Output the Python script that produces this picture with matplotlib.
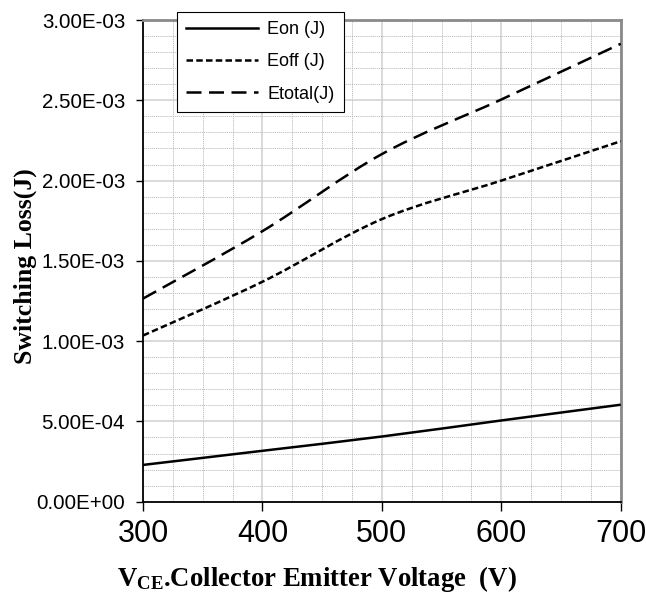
import matplotlib
matplotlib.use("Agg")
import matplotlib.pyplot as plt
from matplotlib.path import Path
from matplotlib.patches import PathPatch
from matplotlib.lines import Line2D
from matplotlib.ticker import MultipleLocator, FuncFormatter

# Switching loss vs collector-emitter voltage
vce = [300, 400, 500, 600, 700]
eon = [2.29e-4, 3.17e-4, 4.06e-4, 5.06e-4, 6.04e-4]
eoff = [1.035e-3, 1.37e-3, 1.76e-3, 2.0e-3, 2.245e-3]
etotal = [1.265e-3, 1.685e-3, 2.165e-3, 2.505e-3, 2.852e-3]

series_labels = ["Eon (J)", "Eoff (J)", "Etotal(J)"]
x_ticks = [300, 400, 500, 600, 700]
y_ticks = [0.0, 5e-4, 1e-3, 1.5e-3, 2e-3, 2.5e-3, 3e-3]

LW = 1.8
styles = [
    dict(linestyle="-"),
    dict(linestyle=(0, (2.6, 1.3))),
    dict(linestyle=(0, (6.0, 3.0))),
]

plt.rcParams["font.family"] = ["Liberation Sans", "DejaVu Sans"]
plt.rcParams["mathtext.fontset"] = "custom"
plt.rcParams["mathtext.rm"] = "Liberation Serif"
plt.rcParams["mathtext.bf"] = "Liberation Serif:bold"
plt.rcParams["mathtext.it"] = "Liberation Serif:italic"

fig = plt.figure(figsize=(6.46, 5.94), dpi=100)
ax = fig.add_axes([0.2214, 0.1554, 0.7395, 0.8109])


def smooth_path(xs, ys):
    """Cubic Bezier path through the points (spreadsheet-style smoothed line)."""
    n = len(xs)
    pts = list(zip(xs, ys))
    verts = [pts[0]]
    codes = [Path.MOVETO]
    for i in range(n - 1):
        p0 = pts[i - 1] if i > 0 else pts[i]
        p1 = pts[i]
        p2 = pts[i + 1]
        p3 = pts[i + 2] if i + 2 < n else pts[i + 1]
        c1 = (p1[0] + (p2[0] - p0[0]) / 6.0, p1[1] + (p2[1] - p0[1]) / 6.0)
        c2 = (p2[0] - (p3[0] - p1[0]) / 6.0, p2[1] - (p3[1] - p1[1]) / 6.0)
        verts += [c1, c2, p2]
        codes += [Path.CURVE4] * 3
    return Path(verts, codes)


handles = []
for ys, st, lab in zip([eon, eoff, etotal], styles, series_labels):
    patch = PathPatch(smooth_path(vce, ys), fill=False, edgecolor="black",
                      linewidth=LW, capstyle="butt", zorder=3, **st)
    ax.add_patch(patch)
    handles.append(Line2D([], [], color="black", linewidth=LW, label=lab, **st))

ax.set_xlim(300, 700)
ax.set_ylim(0, 3e-3)
ax.set_xticks(x_ticks)
ax.set_yticks(y_ticks)
ax.xaxis.set_minor_locator(MultipleLocator(25))
ax.yaxis.set_minor_locator(MultipleLocator(1e-4))


def sci_fmt(v, _pos):
    mant, exp = f"{v:.2E}".split("E")
    sign = "-" if int(exp) < 0 else "+"
    return f"{mant}E{sign}{abs(int(exp)):02d}"


ax.yaxis.set_major_formatter(FuncFormatter(sci_fmt))

ax.grid(which="major", color="#cfcfcf", linewidth=1.1, linestyle="-", zorder=0)
ax.grid(which="minor", color="#b8b8b8", linewidth=0.6, linestyle=(0, (1.5, 1.0)), zorder=0)
ax.set_axisbelow(True)

ax.tick_params(axis="y", which="major", direction="out", length=5, width=1.0,
               labelsize=14.8, pad=8, colors="black")
ax.tick_params(axis="x", which="major", direction="out", length=6.5, width=1.0,
               labelsize=22, pad=6, colors="black")
ax.tick_params(which="minor", length=0)

for side in ("left", "bottom"):
    ax.spines[side].set_color("black")
    ax.spines[side].set_linewidth(1.3)
for side in ("top", "right"):
    ax.spines[side].set_color("#8a8a8a")
    ax.spines[side].set_linewidth(2.0)

ax.set_xlabel(r"$\mathbf{V}_{\mathbf{CE}}$.Collector Emitter Voltage  (V)",
              fontsize=19.3, fontweight="bold", family="Liberation Serif")
ax.xaxis.set_label_coords(0.363, -0.13)
ax.set_ylabel("Switching Loss(J)", fontsize=18.5, fontweight="bold",
              family="Liberation Serif")
ax.yaxis.set_label_coords(-0.222, 0.49)

leg = fig.legend(handles=handles, loc="upper left",
                 bbox_to_anchor=(177 / 646, 1 - 12 / 594),
                 borderaxespad=0, fontsize=13, frameon=True, fancybox=False,
                 edgecolor="black", framealpha=1, handlelength=4.0,
                 handletextpad=0.5, labelspacing=0.85, borderpad=0.5)
leg.get_frame().set_linewidth(0.8)

fig.savefig("out.png", dpi=100)
